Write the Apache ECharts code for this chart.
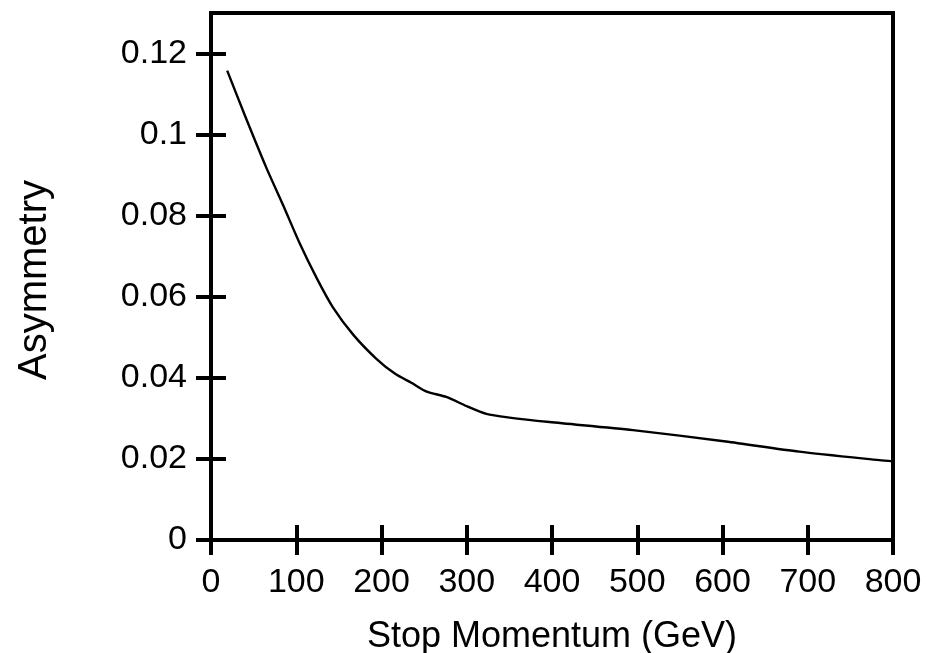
<!DOCTYPE html>
<html>
<head>
<meta charset="utf-8">
<script src="https://cdn.jsdelivr.net/npm/echarts@6/dist/echarts.min.js"></script>
<style>
  html, body { margin: 0; padding: 0; background: #fff; }
  #chart { width: 949px; height: 653px; }
</style>
</head>
<body>
<div id="chart"></div>
<script>
// values
var momentum = [19, 40, 65, 85, 104, 124, 143, 167, 194, 216, 235, 253, 276, 300, 323, 350, 397, 495, 604, 690, 784, 800];
var asymmetry = [0.1158, 0.1046, 0.0918, 0.0824, 0.0732, 0.0646, 0.0574, 0.0506, 0.0447, 0.0410, 0.0388, 0.0366, 0.0353, 0.0330, 0.0311, 0.0302, 0.0291, 0.0271, 0.0243, 0.0218, 0.0197, 0.0194];
var xTicks = [0, 100, 200, 300, 400, 500, 600, 700, 800];
var yTicks = [0, 0.02, 0.04, 0.06, 0.08, 0.1, 0.12];

var points = momentum.map(function (m, i) { return [m, asymmetry[i]]; });

var font = 'Liberation Sans';
var tick = { show: true, inside: true, length: 15, lineStyle: { color: '#000', width: 4 } };

var myChart = echarts.init(document.getElementById('chart'));
myChart.setOption({
  animation: false,
  grid: {
    left: 211, right: 56, top: 13, bottom: 113,
    outerBoundsMode: 'none',
    show: true, borderColor: '#000', borderWidth: 4, backgroundColor: 'transparent'
  },
  xAxis: [{
    type: 'value', min: 0, max: 800, position: 'bottom',
    name: 'Stop Momentum (GeV)', nameLocation: 'middle', nameGap: 79,
    nameTextStyle: { fontFamily: font, fontSize: 36, color: '#000' },
    axisLine: { show: false },
    axisTick: Object.assign({ customValues: xTicks }, tick),
    axisLabel: { customValues: xTicks, margin: 26, fontFamily: font, fontSize: 34, color: '#000' },
    splitLine: { show: false }
  }, {
    type: 'value', min: 0, max: 800, position: 'top',
    axisLine: { show: false },
    axisTick: Object.assign({ customValues: xTicks }, tick),
    axisLabel: { show: false },
    splitLine: { show: false }
  }],
  yAxis: [{
    type: 'value', min: 0, max: 0.13, position: 'left',
    name: 'Asymmetry', nameLocation: 'middle', nameGap: 156,
    nameTextStyle: { fontFamily: font, fontSize: 40, color: '#000', padding: [0, 7, 0, 0] },
    axisLine: { show: false },
    axisTick: Object.assign({ customValues: yTicks }, tick),
    axisLabel: { customValues: yTicks, margin: 24, fontFamily: font, fontSize: 34, color: '#000' },
    splitLine: { show: false }
  }, {
    type: 'value', min: 0, max: 0.13, position: 'right',
    axisLine: { show: false },
    axisTick: Object.assign({ customValues: yTicks }, tick),
    axisLabel: { show: false },
    splitLine: { show: false }
  }],
  series: [{
    type: 'line',
    data: points,
    showSymbol: false,
    smooth: 0.25,
    lineStyle: { color: '#000', width: 2.4 }
  }]
});
</script>
</body>
</html>
